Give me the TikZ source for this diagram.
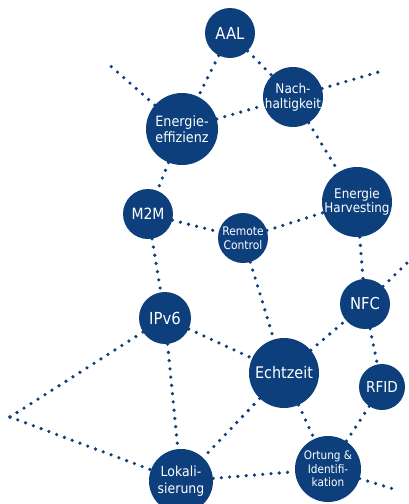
\documentclass[tikz,border=0pt]{standalone}
\usepackage{fontspec}
\setmainfont[FakeStretch=0.9]{DejaVu Sans}
\usetikzlibrary{backgrounds}
\definecolor{navy}{RGB}{12,63,124}
\newcommand{\fs}[2]{\fontsize{#1}{#2}\selectfont}
\begin{document}
\begin{tikzpicture}[x=1pt,y=-1pt,
  bub/.style={circle,fill=navy,inner sep=0pt,minimum size=#1},
  txt/.style={text=white,align=center,inner sep=0pt},
  link/.style={navy,line width=3.6pt,line cap=round,dash pattern=on 0pt off 8.3pt}]
\useasboundingbox (0,0) rectangle (408,504);
% nodes
\node[bub=50pt,label={[txt,font=\fs{16.5}{19}]center:AAL}] (aal) at (230,33) {};
\node[bub=60pt,label={[txt,font=\fs{13.4}{15}]center:Nach-\\haltigkeit}] (nach) at (293,97) {};
\node[bub=72pt,label={[txt,font=\fs{14.2}{15.5}]center:Energie-\\effizienz}] (eff) at (182,129) {};
\node[bub=70pt,label={[txt,font=\fs{13.3}{14.5}]center:Energie\\Harvesting}] (harv) at (357,202) {};
\node[bub=50pt,label={[txt,font=\fs{15.5}{18}]center:M2M}] (m2m) at (148,214) {};
\node[bub=50pt,label={[txt,font=\fs{11.9}{14.5}]center:Remote\\Control}] (rc) at (243,238) {};
\node[bub=50pt,label={[txt,font=\fs{16.4}{19}]center:NFC}] (nfc) at (365,304) {};
\node[bub=52pt,label={[txt,font=\fs{16.6}{19}]center:IPv6}] (ipv6) at (165,318) {};
\node[bub=70pt,label={[txt,font=\fs{16}{19}]center:Echtzeit}] (echt) at (284,373) {};
\node[bub=46pt,label={[txt,font=\fs{15.1}{18}]center:RFID}] (rfid) at (382,387) {};
\node[bub=64pt,label={[txt,font=\fs{13.9}{16.5}]center:Lokali-\\sierung}] (lok) at (181,481) {};
\node[bub=66pt,label={[txt,font=\fs{11.7}{13.5}]center:Ortung \&\\Identifi-\\kation}] (ort) at (328,469) {};
% loose ends
\coordinate (tl) at (106,62);
\coordinate (tr) at (382,71);
\coordinate (nr) at (409,261);
\coordinate (lv) at (10,417);
\coordinate (br) at (397,490);
% links
\begin{pgfonlayer}{background}
\draw[link] (aal) -- (eff);
\draw[link] (aal) -- (nach);
\draw[link] (eff) -- (nach);
\draw[link] (eff) -- (tl);
\draw[link] (nach) -- (tr);
\draw[link] (nach) -- (harv);
\draw[link] (eff) -- (m2m);
\draw[link] (m2m) -- (rc);
\draw[link] (rc) -- (harv);
\draw[link] (rc) -- (echt);
\draw[link] (harv) -- (nfc);
\draw[link] (nfc) -- (nr);
\draw[link] (m2m) -- (ipv6);
\draw[link] (ipv6) -- (echt);
\draw[link] (ipv6) -- (lv);
\draw[link] (lv) -- (lok);
\draw[link] (ipv6) -- (lok);
\draw[link] (echt) -- (nfc);
\draw[link] (echt) -- (lok);
\draw[link] (echt) -- (ort);
\draw[link] (nfc) -- (rfid);
\draw[link] (rfid) -- (ort);
\draw[link] (lok) -- (ort);
\draw[link] (ort) -- (br);
\end{pgfonlayer}
\end{tikzpicture}
\end{document}
